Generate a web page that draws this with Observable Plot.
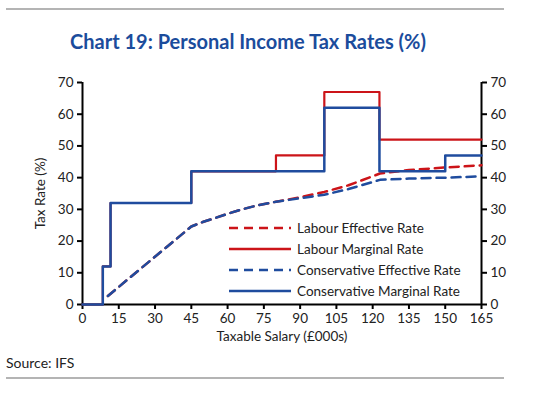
<!DOCTYPE html>
<html>
<head>
<meta charset="utf-8">
<script src="https://cdn.jsdelivr.net/npm/d3@7"></script>
<script src="https://cdn.jsdelivr.net/npm/@observablehq/plot@0.6"></script>
<style>
  html, body { margin: 0; padding: 0; background: #fff; }
  #wrap { position: relative; width: 556px; height: 393px; overflow: hidden; font-family: Lato, "Open Sans", sans-serif; }
  .rule { position: absolute; left: 6px; width: 498px; height: 2px; background: #b4b4b4; }
  #title { position: absolute; left: 0; width: 496px; top: 29px; text-align: center; font-weight: bold; font-size: 20px; color: #1b4c9c; white-space: nowrap; }
  #source { position: absolute; left: 6px; top: 354px; font-size: 14px; color: #222; }
  #chart { position: absolute; left: 0; top: 0; }
  #legend { position: absolute; left: 229px; top: 217px; font-size: 13.5px; color: #222; }
  .li { display: flex; align-items: center; height: 21px; }
  .li svg { margin-right: 6px; }
</style>
</head>
<body>
<div id="wrap">
  <div class="rule" style="top:8px"></div>
  <div id="title">Chart 19: Personal Income Tax Rates (%)</div>
  <div id="chart"></div>
  <div id="legend"></div>
  <div id="source">Source: IFS</div>
  <div class="rule" style="top:377px"></div>
</div>
<script>
// Tick values
const xTicks = [0, 15, 30, 45, 60, 75, 90, 105, 120, 135, 150, 165];
const yTicks = [0, 10, 20, 30, 40, 50, 60, 70];

// Marginal rates (step functions): salary (£000s), rate (%)
const labourMarginalX = [0, 8.4, 11.6, 45, 80, 100, 122.8, 165];
const labourMarginalY = [0, 12, 32, 42, 47, 67, 52, 52];
const consMarginalX = [0, 8.4, 11.6, 45, 100, 122.8, 150, 165];
const consMarginalY = [0, 12, 32, 42, 62, 42, 47, 47];

// Effective rates
const labourEffectiveX = [10.5, 45, 50, 55, 60, 65, 72, 80, 90, 100, 110, 123, 135, 150, 165];
const labourEffectiveY = [2.7, 24.6, 26.1, 27.3, 28.6, 29.8, 31.2, 32.4, 33.8, 35.5, 37.6, 41.3, 42.4, 43.2, 43.9];
const consEffectiveX = [10.5, 45, 50, 55, 60, 65, 72, 80, 90, 100, 110, 123, 135, 150, 165];
const consEffectiveY = [2.7, 24.6, 26.1, 27.3, 28.6, 29.8, 31.2, 32.4, 33.5, 34.6, 36.4, 39.3, 39.7, 40.0, 40.4];

const seriesNames = ["Labour Effective Rate", "Labour Marginal Rate", "Conservative Effective Rate", "Conservative Marginal Rate"];

const RED = "#cc1419";
const BLUE = "#1f4c9e";
const DASH = "9,6";

const zip = (xs, ys) => xs.map((x, i) => ({x, y: ys[i]}));

const plot = Plot.plot({
  width: 556,
  height: 345,
  marginTop: 82,
  marginBottom: 41,
  marginLeft: 82,
  marginRight: 75,
  style: {fontFamily: "Lato, 'Open Sans', sans-serif", fontSize: "13.5px", color: "#222", background: "transparent"},
  x: {domain: [0, 165]},
  y: {domain: [0, 70]},
  marks: [
    Plot.axisX({ticks: xTicks, tickSize: 5, tickPadding: 4, label: "Taxable Salary (£000s)", labelAnchor: "center", labelArrow: "none", labelOffset: 36, stroke: "#000", strokeWidth: 2, fontSize: 13.5}),
    Plot.axisY({anchor: "left", ticks: yTicks, tickSize: 5, tickPadding: 4, label: "Tax Rate (%)", labelAnchor: "center", labelArrow: "none", labelOffset: 47, stroke: "#000", strokeWidth: 2, fontSize: 13.5}),
    Plot.axisY({anchor: "right", ticks: yTicks, tickSize: 5, tickPadding: 4, label: null, stroke: "#000", strokeWidth: 2, fontSize: 13.5}),
    Plot.ruleX([0, 165], {stroke: "#000", strokeWidth: 2}),
    Plot.ruleY([0], {stroke: "#000", strokeWidth: 2}),
    Plot.line(zip(labourEffectiveX, labourEffectiveY), {x: "x", y: "y", stroke: RED, strokeWidth: 2.5, strokeDasharray: DASH}),
    Plot.line(zip(labourMarginalX, labourMarginalY), {x: "x", y: "y", stroke: RED, strokeWidth: 2.2, curve: "step-after"}),
    Plot.line(zip(consEffectiveX, consEffectiveY), {x: "x", y: "y", stroke: BLUE, strokeWidth: 2.5, strokeDasharray: DASH}),
    Plot.line(zip(consMarginalX, consMarginalY), {x: "x", y: "y", stroke: BLUE, strokeWidth: 2.5, curve: "step-after"})
  ]
});
document.getElementById("chart").appendChild(plot);

// Legend
const styles = [
  {stroke: RED, dash: DASH},
  {stroke: RED, dash: null},
  {stroke: BLUE, dash: DASH},
  {stroke: BLUE, dash: null}
];
const legend = d3.select("#legend");
seriesNames.forEach((name, i) => {
  const row = legend.append("div").attr("class", "li");
  const svg = row.append("svg").attr("width", 62).attr("height", 6);
  svg.append("line").attr("x1", 0).attr("x2", 62).attr("y1", 3).attr("y2", 3)
    .attr("stroke", styles[i].stroke).attr("stroke-width", 2.5)
    .attr("stroke-dasharray", styles[i].dash);
  row.append("span").text(name);
});
</script>
</body>
</html>
